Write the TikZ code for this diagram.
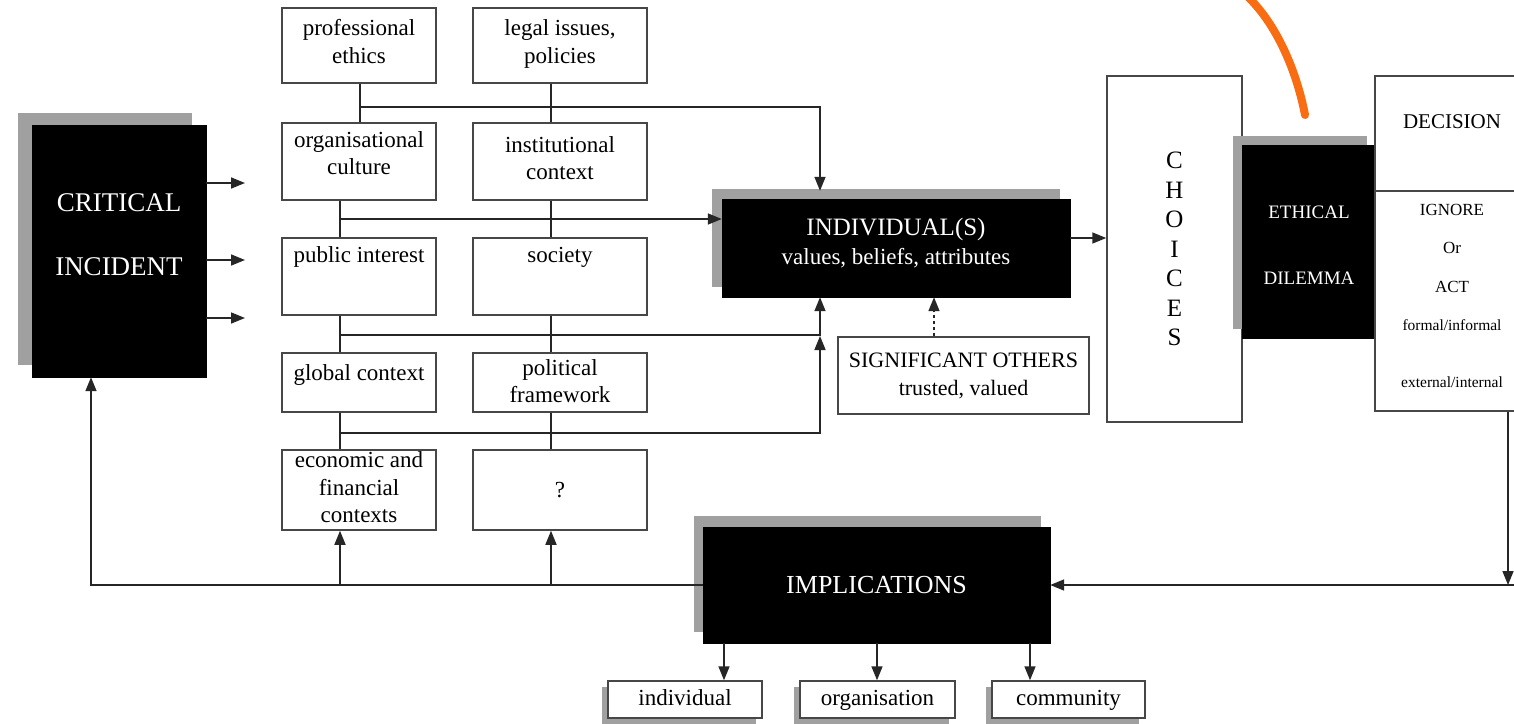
\documentclass[tikz,border=0pt]{standalone}
\usepackage{fontspec}
\setmainfont{Liberation Serif}
\usetikzlibrary{arrows.meta}
\definecolor{markorange}{RGB}{250,108,18}
\definecolor{shadowgray}{RGB}{160,160,160}
\newcommand\dn[1]{\rule[-#1]{0pt}{0pt}}
\newcommand\up[1]{\rule{0pt}{#1}}
\newcommand\fs[2]{\fontsize{#1}{#2}\selectfont}
\begin{document}
\begin{tikzpicture}[x=1pt,y=-1pt,
  box/.style={draw=black!72,line width=1.5pt,fill=white,inner sep=0pt,align=center,font=\fs{23}{27.5}},
  blk/.style={fill=black,draw=black,text=white,inner sep=0pt,align=center},
  shd/.style={fill=shadowgray,draw=none,inner sep=0pt},
  conn/.style={draw=black!85,line width=1.6pt},
  arr/.style={conn,-{Triangle[length=14pt,width=11pt]}},
]
\useasboundingbox (0,0) rectangle (1514,723);
\clip (0,0) rectangle (1514,723);
\fill[white] (0,0) rectangle (1514,723);

% critical incident
\node[shd,minimum width=174pt,minimum height=252pt] (cis) at (105,239) {};
\node[blk,minimum width=174pt,minimum height=252pt,font=\fs{27}{64}] (ci) at (119,251) {CRITICAL\\INCIDENT\dn{32pt}};

% context boxes
\node[box,minimum width=154pt,minimum height=75pt] (pe) at (359,45.5) {professional\\ethics\dn{8pt}};
\node[box,minimum width=174pt,minimum height=75pt] (lg) at (560,45.5) {legal issues,\\policies\dn{8pt}};
\node[box,minimum width=154pt,minimum height=77pt] (oc) at (359,161.5) {organisational\\culture\dn{17pt}};
\node[box,minimum width=174pt,minimum height=77pt] (ic) at (560,161.5) {institutional\\context\dn{7pt}};
\node[box,minimum width=154pt,minimum height=77pt] (pi) at (359,276.5) {public interest\dn{43pt}};
\node[box,minimum width=174pt,minimum height=77pt] (soc) at (560,276.5) {society\dn{43pt}};
\node[box,minimum width=154pt,minimum height=59pt] (gc) at (359,382.5) {global context\dn{20pt}};
\node[box,minimum width=174pt,minimum height=59pt] (pf) at (560,382.5) {political\\framework\dn{3pt}};
\node[box,minimum width=154pt,minimum height=80pt] (ec) at (359,490) {economic and\\financial\\contexts\dn{5pt}};
\node[box,minimum width=174pt,minimum height=80pt] (qm) at (560,490) {?};

% individual
\node[shd,minimum width=348pt,minimum height=98pt] (inds) at (886,238) {};
\node[blk,minimum width=348pt,minimum height=98pt,font=\fs{23}{29}] (ind) at (896,248) {{\fs{25}{29}INDIVIDUAL(S)}\\values, beliefs, attributes\dn{13pt}};
\node[box,minimum width=251pt,minimum height=77pt,font=\fs{22}{28}] (sig) at (963.5,375.5) {SIGNIFICANT OTHERS\\trusted, valued};

% choices
\node[box,minimum width=135pt,minimum height=346pt,font=\fs{25}{29.5}] (ch) at (1174.5,249) {C\\H\\O\\I\\C\\E\\S};

% ethical dilemma
\node[shd,minimum width=134pt,minimum height=193pt] (eths) at (1300,232) {};
\node[blk,minimum width=134pt,minimum height=193pt,font=\fs{19}{66}] (eth) at (1309,241.5) {\up{20pt}ETHICAL\\DILEMMA};

% decision
\node[box,minimum width=154pt,minimum height=115pt,font=\fs{21}{25}] (du) at (1452,133.5) {DECISION\dn{23pt}};
\node[box,minimum width=154pt,minimum height=220pt,font=\fs{17}{38.5}] (dl) at (1452,301) {IGNORE\\Or\\ACT\\{\fs{15.5}{38.5}formal/informal}\\[18pt]{\fs{15.5}{38.5}external/internal}\dn{11pt}};

% implications
\node[shd,minimum width=347pt,minimum height=116pt] (imps) at (867,574) {};
\node[blk,minimum width=347pt,minimum height=116pt,font=\fs{26}{30}] (impl) at (876.5,585) {IMPLICATIONS};

\node[shd,minimum width=154pt,minimum height=37pt] (sb1s) at (679,705.5) {};
\node[box,minimum width=154pt,minimum height=37pt] (sb1) at (685,699.5) {\strut individual};
\node[shd,minimum width=155pt,minimum height=37pt] (sb2s) at (871.5,705.5) {};
\node[box,minimum width=155pt,minimum height=37pt] (sb2) at (877.5,699.5) {\strut organisation};
\node[shd,minimum width=153pt,minimum height=37pt] (sb3s) at (1062.5,705.5) {};
\node[box,minimum width=153pt,minimum height=37pt] (sb3) at (1068.5,699.5) {\strut community};

% helper coordinates
\coordinate (xL) at (340,0);
\coordinate (xP) at (360,0);
\coordinate (xR) at (551,0);
\coordinate (xI) at (820,0);
\coordinate (xS) at (934,0);
\coordinate (xC) at (91,0);
\coordinate (xD) at (1508,0);
\coordinate (xa) at (724,0);
\coordinate (xb) at (877,0);
\coordinate (xc) at (1030,0);
\coordinate (yA) at (0,107);
\coordinate (yB) at (0,219);
\coordinate (yC) at (0,335);
\coordinate (yD) at (0,433);
\coordinate (yE) at (0,238);
\coordinate (yF) at (0,585);
\coordinate (ca1) at (245,183);
\coordinate (ca2) at (245,260);
\coordinate (ca3) at (245,318);
\coordinate (redge) at (1520,585);

% critical incident outputs
\draw[arr] (ci.east |- ca1) -- (ca1);
\draw[arr] (ci.east |- ca2) -- (ca2);
\draw[arr] (ci.east |- ca3) -- (ca3);

% context network
\draw[conn] (xP |- pe.south) -- (xP |- oc.north);
\draw[conn] (xR |- lg.south) -- (xR |- ic.north);
\draw[arr,shorten >=8pt] (xP |- yA) -| (xI |- ind.north);
\draw[conn] (xL |- oc.south) -- (xL |- pi.north);
\draw[conn] (xR |- ic.south) -- (xR |- soc.north);
\draw[arr] (xL |- yB) -- (ind.west |- yB);
\draw[conn] (xL |- pi.south) -- (xL |- gc.north);
\draw[conn] (xR |- soc.south) -- (xR |- pf.north);
\draw[arr] (xL |- yC) -| (xI |- ind.south);
\draw[conn] (xL |- gc.south) -- (xL |- ec.north);
\draw[conn] (xR |- pf.south) -- (xR |- qm.north);
\draw[arr,shorten >=1pt] (xL |- yD) -| (xI |- yC);

\draw[arr,dashed] (xS |- sig.north) -- (xS |- ind.south);
\draw[arr] (ind.east |- yE) -- (ch.west |- yE);

% implications feedback
\draw[arr] (impl.west) -| (xC |- ci.south);
\draw[arr] (xL |- impl.west) -- (xL |- ec.south);
\draw[arr] (xR |- impl.west) -- (xR |- qm.south);
\draw[arr] (xa |- impl.south) -- (xa |- sb1.north);
\draw[arr] (xb |- impl.south) -- (xb |- sb2.north);
\draw[arr] (xc |- impl.south) -- (xc |- sb3.north);
\draw[arr] (xD |- dl.south) -- (xD |- yF);
\draw[arr] (redge) -- (impl.east);

% hand-drawn orange stroke
\draw[draw=markorange,line width=8pt,line cap=round] (1248,-3) .. controls (1280,28) and (1298,78) .. (1305,115);
\end{tikzpicture}
\end{document}
